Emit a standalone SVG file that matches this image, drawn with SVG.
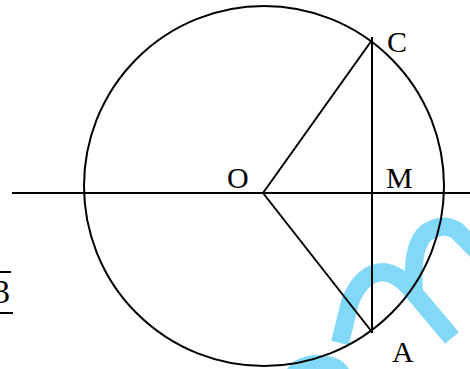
<svg xmlns="http://www.w3.org/2000/svg" width="470" height="369" viewBox="0 0 470 369">
<style>
.ln{stroke:#000;stroke-width:2;fill:none}
.wm{stroke:#82d8f7;fill:none;stroke-width:18}
.lbl{font-family:"Liberation Serif","Times New Roman",serif;font-size:30px;fill:#000}
</style>
<rect width="470" height="369" fill="#fff"/>
<g id="watermark">
<path class="wm" d="M340 343 L350 302 Q362 272 384 272 Q398 274 410 288 L452 338"/>
<path class="wm" d="M414 292 Q411 246 426 233 Q442 222 456 230 L478 252"/>
<ellipse cx="318" cy="374" rx="32" ry="19" fill="#82d8f7"/>
</g>
<g id="connectors">
<circle class="ln" cx="264" cy="186" r="180"/>
<line class="ln" x1="12" y1="193" x2="470" y2="193"/>
<line class="ln" x1="263" y1="193" x2="372" y2="40"/>
<line class="ln" x1="263" y1="193" x2="372" y2="332"/>
<line class="ln" x1="372" y1="37" x2="372" y2="333"/>
<line class="ln" x1="0" y1="272" x2="11" y2="272"/>
<line class="ln" x1="0" y1="313" x2="13" y2="313"/>
</g>
<g id="O"><text class="lbl" x="227" y="188">O</text></g>
<g id="C"><text class="lbl" x="387" y="52">C</text></g>
<g id="M"><text class="lbl" x="386" y="188">M</text></g>
<g id="A"><text class="lbl" x="392" y="362">A</text></g>
<g id="frac"><text class="lbl" x="-7" y="303" style="font-size:34px">3</text></g>
</svg>
